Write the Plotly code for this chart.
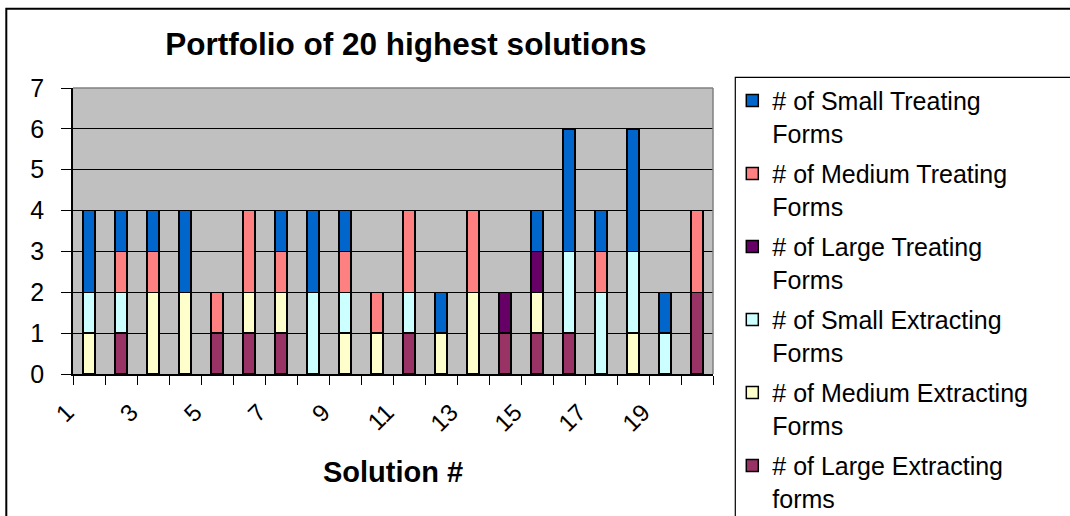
import plotly.graph_objects as go

# Solutions ranked 1..20 and their composition by form type
solutions = [str(i) for i in range(1, 21)]
tick_labels = [s if int(s) % 2 == 1 else "" for s in solutions]

large_extracting = [0, 1, 0, 0, 1, 1, 1, 0, 0, 0, 1, 0, 0, 1, 1, 1, 0, 0, 0, 2]
medium_extracting = [1, 0, 2, 2, 0, 1, 1, 0, 1, 1, 0, 1, 2, 0, 1, 0, 0, 1, 0, 0]
small_extracting = [1, 1, 0, 0, 0, 0, 0, 2, 1, 0, 1, 0, 0, 0, 0, 2, 2, 2, 1, 0]
large_treating = [0, 0, 0, 0, 0, 0, 0, 0, 0, 0, 0, 0, 0, 1, 1, 0, 0, 0, 0, 0]
medium_treating = [0, 1, 1, 0, 1, 2, 1, 0, 1, 1, 2, 0, 2, 0, 0, 0, 1, 0, 0, 2]
small_treating = [2, 1, 1, 2, 0, 0, 1, 2, 1, 0, 0, 1, 0, 0, 1, 3, 1, 3, 1, 0]

# stacked bottom to top
series = [
    ("# of Large Extracting<br>forms", large_extracting, "#993366"),
    ("# of Medium Extracting<br>Forms", medium_extracting, "#FFFFCC"),
    ("# of Small Extracting<br>Forms", small_extracting, "#CCFFFF"),
    ("# of Large Treating<br>Forms", large_treating, "#660066"),
    ("# of Medium Treating<br>Forms", medium_treating, "#FF8080"),
    ("# of Small Treating<br>Forms", small_treating, "#0066CC"),
]

FONT = "Liberation Sans, Arial, sans-serif"
W, H = 1070, 516
L, R, T, B = 72.7, 357.3, 88.3, 141.7
pw, ph = W - L - R, H - T - B


def px_x(x):
    return (x - L) / pw


def px_y(y):
    return (H - B - y) / ph


fig = go.Figure()
for i, (name, vals, color) in enumerate(series):
    fig.add_trace(go.Bar(
        x=solutions, y=vals, name=name,
        legendgroup=f"g{i}", legendrank=len(series) - i,
        marker=dict(color=color, line=dict(color="black", width=1.5)),
    ))

fig.update_layout(
    width=W, height=H,
    margin=dict(l=L, r=R, t=T, b=B, autoexpand=False),
    barmode="stack", bargap=0.63,
    paper_bgcolor="white", plot_bgcolor="#C0C0C0",
    font=dict(family=FONT, color="black"),
    title=dict(
        text="<b>Portfolio of 20 highest solutions</b>",
        font=dict(size=31.5, family=FONT, color="black"),
        x=406 / W, xanchor="center", xref="container",
        y=1 - 44 / H, yanchor="middle", yref="container",
    ),
    legend=dict(
        x=px_x(732), y=px_y(78), xanchor="left", yanchor="top",
        traceorder="grouped", tracegroupgap=5,
        valign="top", maxheight=3000,
        font=dict(size=25, family=FONT, color="black"),
        bgcolor="rgba(0,0,0,0)", borderwidth=0,
    ),
    xaxis=dict(
        type="category", categoryorder="array", categoryarray=solutions,
        tickmode="array", tickvals=solutions, ticktext=tick_labels,
        tickson="boundaries", ticks="outside", ticklen=9, tickcolor="black",
        tickangle=-45, tickfont=dict(size=24, family=FONT),
        ticklabelshift=-22, ticklabelstandoff=13,
        showline=True, linecolor="black", linewidth=1.5,
        showgrid=False, zeroline=False,
        title=dict(text="<b>Solution #</b>", font=dict(size=29, family=FONT),
                   standoff=26),
    ),
    yaxis=dict(
        range=[0, 7], tickmode="linear", tick0=0, dtick=1,
        ticks="outside", ticklen=10, tickcolor="black",
        tickfont=dict(size=25, family=FONT), ticklabelstandoff=12,
        showline=True, linecolor="black", linewidth=1.5,
        showgrid=True, gridcolor="black", gridwidth=1, zeroline=False,
    ),
    shapes=[
        # plot area frame (top and right)
        dict(type="line", xref="paper", yref="paper", x0=0, x1=1, y0=1, y1=1,
             line=dict(color="#808080", width=1.5), layer="above"),
        dict(type="line", xref="paper", yref="paper", x0=1, x1=1, y0=0, y1=1,
             line=dict(color="#808080", width=1.5), layer="above"),
        # legend box
        dict(type="rect", xref="paper", yref="paper",
             x0=px_x(735), x1=px_x(1090), y0=px_y(540), y1=px_y(77.7),
             line=dict(color="black", width=1.2), layer="above"),
        # chart frame
        dict(type="rect", xref="paper", yref="paper",
             x0=px_x(6), x1=px_x(1090), y0=px_y(540), y1=px_y(9),
             line=dict(color="black", width=2), layer="above"),
    ],
)

fig.write_html("out.html")
